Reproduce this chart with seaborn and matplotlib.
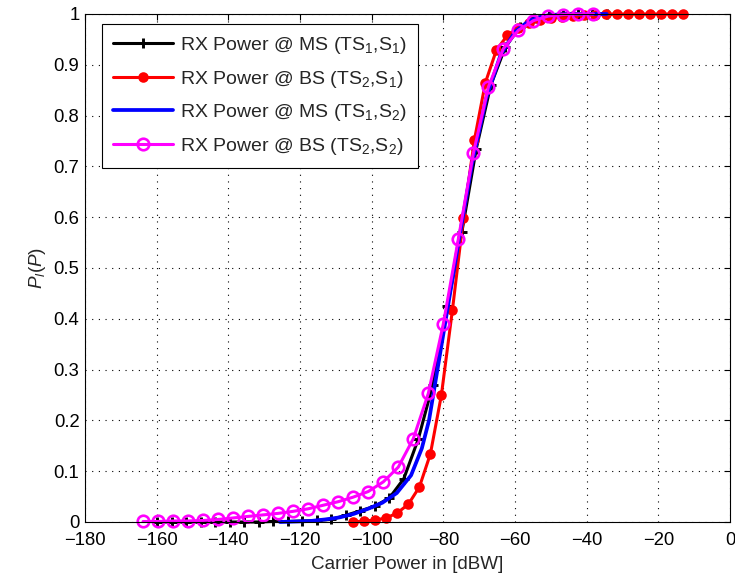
import numpy as np
import pandas as pd
import matplotlib
matplotlib.use("Agg")
import matplotlib.pyplot as plt
import seaborn as sns

# ---- data ----
ms_s1_x = [-159.9, -155.85, -151.8, -147.75, -143.7, -139.65, -135.6, -131.55, -127.5, -123.45,
           -119.4, -115.35, -111.3, -107.25, -103.2, -99.15, -95.1, -91.05, -87.0, -82.95,
           -78.9, -74.85, -70.8, -66.75, -62.7, -58.65, -54.6, -50.55, -46.5, -42.45,
           -38.4, -34.35]
ms_s1_y = [0.000, 0.000, 0.000, 0.000, 0.000, 0.000, 0.000, 0.000, 0.001, 0.001,
           0.002, 0.003, 0.005, 0.013, 0.022, 0.031, 0.047, 0.085, 0.163, 0.270,
           0.425, 0.570, 0.735, 0.860, 0.935, 0.974, 0.992, 0.998, 1.000, 1.000,
           1.000, 1.000]

bs_s1_x = [-105.1, -102.03, -98.96, -95.89, -92.82, -89.75, -86.68, -83.61, -80.54, -77.47,
           -74.4, -71.33, -68.26, -65.19, -62.12, -59.05, -55.98, -52.91, -49.84, -46.77,
           -43.7, -40.63, -37.56, -34.49, -31.42, -28.35, -25.28, -22.21, -19.14, -16.07, -13.0]
bs_s1_y = [0.000, 0.002, 0.004, 0.008, 0.018, 0.035, 0.069, 0.134, 0.250, 0.417, 0.598,
           0.752, 0.865, 0.929, 0.958, 0.973, 0.982, 0.988, 0.992, 0.995, 0.997, 0.998,
           0.999, 1.000, 1.000, 1.000, 1.000, 1.000, 1.000, 1.000, 1.000]

ms_s2_x = [-125.6, -121, -117, -113, -109, -105, -101, -97, -93, -89, -86, -84, -80, -76,
           -72, -68, -64, -60, -56, -52, -48, -44, -40, -34.4]
ms_s2_y = [0.000, 0.001, 0.002, 0.005, 0.009, 0.016, 0.026, 0.038, 0.057, 0.092, 0.145,
           0.200, 0.370, 0.540, 0.705, 0.835, 0.920, 0.965, 0.987, 0.996, 0.999, 1.000,
           1.000, 1.000]

bs_s2_x = [-163.8, -159.61, -155.42, -151.23, -147.04, -142.85, -138.66, -134.47, -130.28,
           -126.09, -121.9, -117.71, -113.52, -109.33, -105.14, -100.95, -96.76, -92.57,
           -88.38, -84.19, -80.0, -75.81, -71.62, -67.43, -63.24, -59.05, -54.86, -50.67,
           -46.48, -42.29, -38.1]
bs_s2_y = [0.001, 0.001, 0.002, 0.002, 0.003, 0.005, 0.008, 0.011, 0.014, 0.017,
           0.021, 0.026, 0.033, 0.040, 0.049, 0.060, 0.079, 0.108, 0.164, 0.253,
           0.390, 0.557, 0.726, 0.856, 0.932, 0.968, 0.987, 0.996, 0.999, 1.000, 1.000]

labels = [r"RX Power @ MS (TS$_1$,S$_1$)", r"RX Power @ BS (TS$_2$,S$_1$)",
          r"RX Power @ MS (TS$_1$,S$_2$)", r"RX Power @ BS (TS$_2$,S$_2$)"]
x_ticks = [-180, -160, -140, -120, -100, -80, -60, -40, -20, 0]
y_ticks = [0, 0.1, 0.2, 0.3, 0.4, 0.5, 0.6, 0.7, 0.8, 0.9, 1]
y_tick_labels = ["0", "0.1", "0.2", "0.3", "0.4", "0.5", "0.6", "0.7", "0.8", "0.9", "1"]

# ---- style ----
sns.set_style("white")
plt.rcParams["font.family"] = ["Liberation Sans", "DejaVu Sans"]
plt.rcParams["mathtext.fontset"] = "custom"
plt.rcParams["mathtext.rm"] = "Liberation Sans"
plt.rcParams["mathtext.it"] = "Liberation Sans:italic"
plt.rcParams["mathtext.default"] = "rm"

fig = plt.figure(figsize=(7.35, 5.78), dpi=100)
ax = fig.add_axes([85 / 735, 56 / 578, 645 / 735, 508 / 578])

lw = 2.2
sns.lineplot(x=ms_s1_x, y=ms_s1_y, ax=ax, color="black", lw=lw, marker="+",
             markersize=7.5, markeredgewidth=2.1, markeredgecolor="black",
             sort=False, estimator=None, label=labels[0], clip_on=False)
sns.lineplot(x=bs_s1_x, y=bs_s1_y, ax=ax, color="red", lw=lw, marker="o",
             markersize=7.6, markeredgewidth=0, markerfacecolor="red",
             sort=False, estimator=None, label=labels[1], clip_on=False)
sns.lineplot(x=ms_s2_x, y=ms_s2_y, ax=ax, color="blue", lw=lw + 0.5,
             sort=False, estimator=None, label=labels[2], clip_on=False)
sns.lineplot(x=bs_s2_x, y=bs_s2_y, ax=ax, color="magenta", lw=lw, marker="o",
             markersize=8.3, markerfacecolor="none", markeredgecolor="magenta",
             markeredgewidth=1.9, sort=False, estimator=None, label=labels[3], clip_on=False)

ax.set_xlim(-180, 0)
ax.set_ylim(0, 1)
ax.set_xticks(x_ticks)
ax.set_yticks(y_ticks)
ax.set_yticklabels(y_tick_labels)
ax.tick_params(direction="in", length=4.5, width=0.8, labelsize=13.3, top=True, right=True,
               colors="black")
ax.tick_params(axis="x", pad=7)
ax.tick_params(axis="y", pad=4)
ax.grid(True, color="black", linestyle=(0, (1, 5)), linewidth=0.8)
ax.set_axisbelow(True)
for s in ax.spines.values():
    s.set_visible(True)
    s.set_color("black")
    s.set_linewidth(0.8)
    s.set_zorder(5)

ax.set_xlabel("Carrier Power in [dBW]", fontsize=13.6, labelpad=5)
ax.set_ylabel(r"$\mathit{P_l(P)}$", fontsize=13.6, labelpad=4)

leg = ax.legend(loc="upper left", bbox_to_anchor=(0.0268, 0.9797), borderaxespad=0,
                fontsize=14, frameon=True, fancybox=False, edgecolor="black",
                framealpha=1, handlelength=3.1, handletextpad=0.35, borderpad=0.55,
                labelspacing=0.65)
leg.get_frame().set_linewidth(0.8)
leg.set_zorder(10)

fig.savefig("out.png", dpi=100)
